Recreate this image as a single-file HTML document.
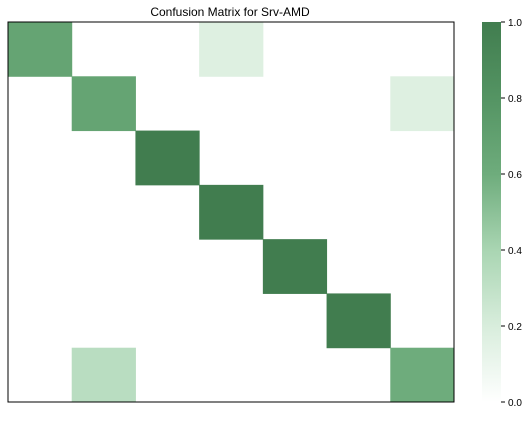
<!DOCTYPE html>
<html><head><meta charset="utf-8"><style>
body{margin:0;background:#fff;font-family:"Liberation Sans",sans-serif;}
</style></head><body>
<svg id="c" width="530" height="416" xmlns="http://www.w3.org/2000/svg">
<defs><linearGradient id="g" x1="0" y1="1" x2="0" y2="0">
<stop offset="0" stop-color="#ffffff"/><stop offset="0.2" stop-color="#d8eddc"/><stop offset="0.4" stop-color="#a9d5b2"/><stop offset="0.6" stop-color="#6eac7c"/><stop offset="0.8" stop-color="#549463"/><stop offset="1" stop-color="#417d4f"/></linearGradient></defs>
<text x="230" y="16" text-anchor="middle" font-size="12" fill="#000">Confusion Matrix for Srv-AMD</text>
<g id="cells"></g>
<rect x="8" y="22" width="446" height="380" fill="none" stroke="#000" stroke-width="1"/>
<rect x="482" y="22" width="19" height="380" fill="url(#g)"/>
<g id="cb"></g>
</svg>
<script>
const matrix=[
[0.67,0,0,0.17,0,0,0],
[0,0.67,0,0,0,0,0.17],
[0,0,1,0,0,0,0],
[0,0,0,1,0,0,0],
[0,0,0,0,1,0,0],
[0,0,0,0,0,1,0],
[0,0.33,0,0,0,0,0.6]];
const cbTicks=[0,0.2,0.4,0.6,0.8,1.0];
const stops=[[0,[255,255,255]],[0.2,[216,237,220]],[0.4,[169,213,178]],[0.6,[110,172,124]],[0.8,[84,148,99]],[1,[65,125,79]]];
function col(v){for(let i=1;i<stops.length;i++){if(v<=stops[i][0]){const a=stops[i-1],b=stops[i],t=(v-a[0])/(b[0]-a[0]);return 'rgb('+a[1].map((c,k)=>Math.round(c+(b[1][k]-c)*t)).join(',')+')';}}return 'rgb(65,125,79)';}
const NS='http://www.w3.org/2000/svg';
const X0=8,Y0=22,W=446,H=380,n=matrix.length,cw=W/n,ch=H/n;
const g=document.getElementById('cells');
matrix.forEach((row,r)=>row.forEach((v,c)=>{if(v<=0)return;const e=document.createElementNS(NS,'rect');
e.setAttribute('x',X0+c*cw);e.setAttribute('y',Y0+r*ch);e.setAttribute('width',cw+0.5);e.setAttribute('height',ch+0.5);e.setAttribute('fill',col(v));


g.appendChild(e);}));
const cb=document.getElementById('cb');
cbTicks.forEach(t=>{const y=402-t*380;const l=document.createElementNS(NS,'line');
l.setAttribute('x1',501);l.setAttribute('x2',505);l.setAttribute('y1',y);l.setAttribute('y2',y);l.setAttribute('stroke','#000');


cb.appendChild(l);
const tx=document.createElementNS(NS,'text');tx.setAttribute('x',508);tx.setAttribute('y',y+4);tx.setAttribute('font-size','10');tx.textContent=t.toFixed(1);


cb.appendChild(tx);});
</script>
</body></html>
